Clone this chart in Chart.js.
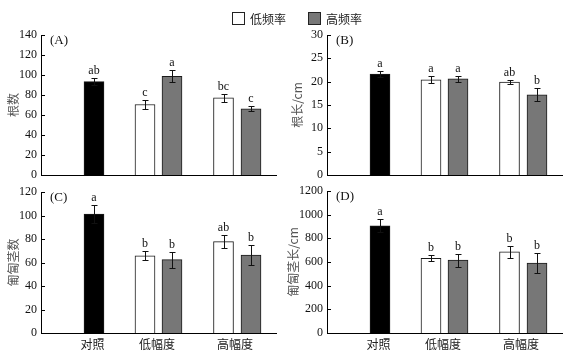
<!DOCTYPE html>
<html><head><meta charset="utf-8">
<script src="https://cdn.jsdelivr.net/npm/chart.js@4"></script>
<style>
html,body{margin:0;padding:0;background:#fff;}
#wrap{position:relative;width:571px;height:356px;overflow:hidden;background:#fff;}
canvas{position:absolute;left:0;top:0;}
.lg{position:absolute;top:11px;height:14px;display:flex;align-items:center;font:12px "Noto Sans CJK SC";color:#222;}
.lg i{display:inline-block;width:11px;height:11px;border:1px solid #222;margin-right:5px;}
</style></head>
<body><div id="wrap">
<canvas id="cA" width="571" height="356"></canvas>
<canvas id="cB" width="571" height="356"></canvas>
<canvas id="cC" width="571" height="356"></canvas>
<canvas id="cD" width="571" height="356"></canvas>
<div class="lg" style="left:232px"><i style="background:#fff"></i>低频率</div>
<div class="lg" style="left:308px"><i style="background:#777"></i>高频率</div>
</div>
<script>
// ---- data ----
const groups = ['对照', '低幅度', '高幅度'];
const seriesNames = ['对照', '低频率', '高频率'];

// (A) 根数
const rootNumCtrl = [93.3], rootNumLowF = [70.5, 77.2], rootNumHighF = [98.6, 66.2];
const rootNumCtrlErr = [3.5], rootNumLowFErr = [4.5, 4.0], rootNumHighFErr = [6.0, 2.6];
const rootNumCtrlSig = ['ab'], rootNumLowFSig = ['c', 'bc'], rootNumHighFSig = ['a', 'c'];

// (B) 根长/cm
const rootLenCtrl = [21.6], rootLenLowF = [20.4, 19.9], rootLenHighF = [20.6, 17.2];
const rootLenCtrlErr = [0.6], rootLenLowFErr = [0.75, 0.5], rootLenHighFErr = [0.65, 1.4];
const rootLenCtrlSig = ['a'], rootLenLowFSig = ['a', 'ab'], rootLenHighFSig = ['a', 'b'];

// (C) 匍匐茎数
const stolonNumCtrl = [101.2], stolonNumLowF = [65.6, 77.8], stolonNumHighF = [62.4, 66.4];
const stolonNumCtrlErr = [8.0], stolonNumLowFErr = [3.8, 5.6], stolonNumHighFErr = [6.8, 8.8];
const stolonNumCtrlSig = ['a'], stolonNumLowFSig = ['b', 'ab'], stolonNumHighFSig = ['b', 'b'];

// (D) 匍匐茎长/cm
const stolonLenCtrl = [906], stolonLenLowF = [632, 686], stolonLenHighF = [616, 590];
const stolonLenCtrlErr = [55], stolonLenLowFErr = [27, 48], stolonLenHighFErr = [55, 82];
const stolonLenCtrlSig = ['a'], stolonLenLowFSig = ['b', 'b'], stolonLenHighFSig = ['b', 'b'];

const yTicksA = [0, 140, 20], yTicksB = [0, 30, 5], yTicksC = [0, 120, 20], yTicksD = [0, 1200, 200];

// ---- layout (not data) ----
const PLOT_W = 235;
const GROUP_X = [53, 117.5, 196.25];
const LABEL_X = [51.5, 116, 194];
const CTRL_X = [GROUP_X[0]];
const LOWF_X = [GROUP_X[1] - 13.5, GROUP_X[2] - 13.75];
const HIGHF_X = [GROUP_X[1] + 13.5, GROUP_X[2] + 13.75];
const COLORS = ['#000000', '#ffffff', '#777777'];
const SERIF = 'Liberation Serif';
const CJK = 'Noto Sans CJK SC';

const overlay = {
  id: 'overlay',
  afterDatasetsDraw(chart) {
    const ctx = chart.ctx, ys = chart.scales.y;
    const extra = chart.options.plugins.overlay;
    ctx.save();
    chart.data.datasets.forEach((ds, di) => {
      const meta = chart.getDatasetMeta(di);
      const errs = extra.errs[di], sigs = extra.sigs[di];
      meta.data.forEach((el, i) => {
        const v = ds.data[i].y, e = errs[i];
        const x = Math.round(el.x) + 0.5;
        const yt = Math.round(ys.getPixelForValue(v + e)) + 0.5;
        const yb = Math.round(ys.getPixelForValue(v - e)) + 0.5;
        ctx.strokeStyle = '#111';
        ctx.lineWidth = 1;
        ctx.beginPath();
        ctx.moveTo(x, yt); ctx.lineTo(x, yb);
        ctx.moveTo(x - 3, yt); ctx.lineTo(x + 3, yt);
        ctx.moveTo(x - 3, yb); ctx.lineTo(x + 3, yb);
        ctx.stroke();
        ctx.fillStyle = '#111';
        ctx.font = '12px "' + SERIF + '"';
        ctx.textAlign = 'center';
        ctx.textBaseline = 'alphabetic';
        ctx.fillText(sigs[i], el.x, yt - 5);
      });
    });
    ctx.restore();
  },
  afterDraw(chart) {
    const ctx = chart.ctx, ys = chart.scales.y, a = chart.chartArea;
    const extra = chart.options.plugins.overlay;
    ctx.save();
    ctx.strokeStyle = '#000'; ctx.lineWidth = 1;
    ctx.beginPath();
    ys.ticks.forEach(t => {
      const y = Math.round(ys.getPixelForValue(t.value)) + 0.5;
      ctx.moveTo(a.left, y); ctx.lineTo(a.left + 4, y);
    });
    ctx.stroke();
    ctx.fillStyle = '#111';
    ctx.font = '13px "' + SERIF + '"';
    ctx.textAlign = 'left'; ctx.textBaseline = 'middle';
    ctx.fillText(extra.label, a.left + 9, a.top + 6);
    ctx.restore();
  }
};

function makePanel(id, p) {
  const yW = 41, xH = p.showX ? 22 : 8;
  const series = [
    { name: seriesNames[0], vals: p.ctrl, xs: CTRL_X, color: COLORS[0] },
    { name: seriesNames[1], vals: p.lowF, xs: LOWF_X, color: COLORS[1] },
    { name: seriesNames[2], vals: p.highF, xs: HIGHF_X, color: COLORS[2] }
  ];
  new Chart(document.getElementById(id), {
    type: 'bar',
    data: {
      datasets: series.map(s => ({
        label: s.name,
        data: s.vals.map((v, i) => ({ x: s.xs[i], y: v })),
        backgroundColor: s.color,
        borderColor: '#1a1a1a',
        borderWidth: 1,
        borderSkipped: 'bottom',
        grouped: false,
        barThickness: 20
      }))
    },
    options: {
      responsive: false, animation: false, events: [],
      layout: { padding: { left: p.l - yW, top: p.t, right: 571 - p.l - PLOT_W, bottom: 356 - p.b - xH } },
      plugins: {
        legend: { display: false }, tooltip: { enabled: false },
        overlay: { errs: p.errs, sigs: p.sigs, label: p.label }
      },
      scales: {
        x: {
          type: 'linear', min: 0, max: PLOT_W, offset: false,
          grid: { display: false, drawTicks: false, offset: false },
          border: { display: true, color: '#000', width: 1 },
          ticks: {
            display: p.showX, autoSkip: false, maxRotation: 0, padding: 4,
            font: { family: CJK, size: 12 }, color: '#222',
            callback: (v, i) => groups[i]
          },
          afterBuildTicks: s => { s.ticks = LABEL_X.map(v => ({ value: v })); },
          afterFit: s => { s.height = xH; }
        },
        y: {
          min: p.yt[0], max: p.yt[1], stacked: false,
          ticks: { stepSize: p.yt[2], padding: 4, font: { family: SERIF, size: 12 }, color: '#111',
            callback: v => String(v) },
          grid: { display: false, drawTicks: false },
          border: { display: true, color: '#000', width: 1 },
          title: { display: true, text: p.title, color: '#555', font: { family: CJK, size: 12 }, padding: { top: p.tp, bottom: 0 } },
          afterFit: s => { s.width = yW; }
        }
      }
    },
    plugins: [overlay]
  });
}

makePanel('cA', { l: 41, t: 35, b: 175, showX: false, yt: yTicksA, title: '根数', tp: 6, label: '(A)',
  ctrl: rootNumCtrl, lowF: rootNumLowF, highF: rootNumHighF,
  errs: [rootNumCtrlErr, rootNumLowFErr, rootNumHighFErr], sigs: [rootNumCtrlSig, rootNumLowFSig, rootNumHighFSig] });
makePanel('cB', { l: 327, t: 35, b: 175, showX: false, yt: yTicksB, title: '根长/cm', tp: 4, label: '(B)',
  ctrl: rootLenCtrl, lowF: rootLenLowF, highF: rootLenHighF,
  errs: [rootLenCtrlErr, rootLenLowFErr, rootLenHighFErr], sigs: [rootLenCtrlSig, rootLenLowFSig, rootLenHighFSig] });
makePanel('cC', { l: 41, t: 192, b: 333, showX: true, yt: yTicksC, title: '匍匐茎数', tp: 6, label: '(C)',
  ctrl: stolonNumCtrl, lowF: stolonNumLowF, highF: stolonNumHighF,
  errs: [stolonNumCtrlErr, stolonNumLowFErr, stolonNumHighFErr], sigs: [stolonNumCtrlSig, stolonNumLowFSig, stolonNumHighFSig] });
makePanel('cD', { l: 327, t: 191, b: 333, showX: true, yt: yTicksD, title: '匍匐茎长/cm', tp: 0, label: '(D)',
  ctrl: stolonLenCtrl, lowF: stolonLenLowF, highF: stolonLenHighF,
  errs: [stolonLenCtrlErr, stolonLenLowFErr, stolonLenHighFErr], sigs: [stolonLenCtrlSig, stolonLenLowFSig, stolonLenHighFSig] });
</script>
</body></html>
